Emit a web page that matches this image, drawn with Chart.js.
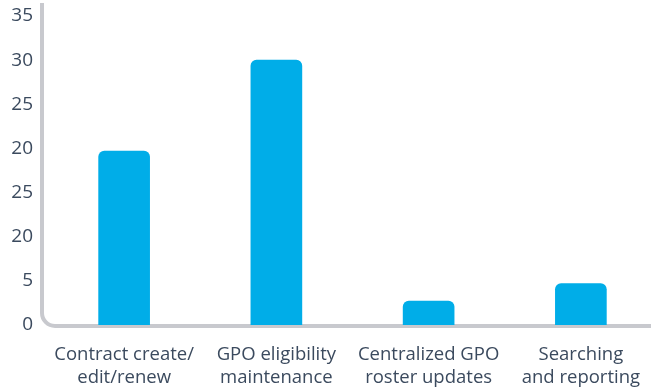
<!DOCTYPE html>
<html>
<head>
<meta charset="utf-8">
<script src="https://cdn.jsdelivr.net/npm/chart.js@4/dist/chart.umd.min.js"></script>
<style>
  html, body { margin: 0; padding: 0; background: #fff; overflow: hidden; }
  #wrap { position: relative; width: 660px; height: 391px; }
</style>
</head>
<body>
<div id="wrap"><canvas id="chart"></canvas></div>
<script>
// values
const categories = [
    ['Contract create/', 'edit/renew'],
    ['GPO eligibility', 'maintenance'],
    ['Centralized GPO', 'roster updates'],
    ['Searching', 'and reporting']
];
const values = [19.7, 30, 2.7, 4.7];
// tick labels as printed on the original axis
const yTickLabels = ['0', '5', '20', '25', '20', '25', '30', '35'];

const textColor = '#3b4a5e';
const axisColor = '#c8c9ce';

// L-shaped axis with a rounded corner, drawn from the chart area
const roundedAxis = {
    id: 'roundedAxis',
    beforeDatasetsDraw(chart) {
        const { ctx, chartArea } = chart;
        const x = chartArea.left - 6;
        const y = chartArea.bottom + 1;
        const r = 13;
        ctx.save();
        ctx.strokeStyle = axisColor;
        ctx.lineWidth = 4;
        ctx.beginPath();
        ctx.moveTo(x, 3);
        ctx.lineTo(x, y - r);
        ctx.arcTo(x, y, x + r, y, r);
        ctx.lineTo(chart.width, y);
        ctx.stroke();
        ctx.restore();
    }
};

new Chart(document.getElementById('chart'), {
    type: 'bar',
    data: {
        labels: categories,
        datasets: [{
            data: values,
            backgroundColor: '#00ade8',
            borderWidth: 0,
            barThickness: 51,
            borderRadius: { topLeft: 6, topRight: 6, bottomLeft: 0, bottomRight: 0 },
            borderSkipped: false
        }]
    },
    options: {
        responsive: true,
        maintainAspectRatio: false,
        animation: false,
        layout: { padding: { top: 16, right: 3, left: 0, bottom: 0 } },
        plugins: { legend: { display: false }, tooltip: { enabled: false } },
        scales: {
            x: {
                grid: { display: false, drawTicks: false },
                border: { display: false },
                ticks: {
                    color: textColor,
                    font: { family: 'Open Sans', size: 18.5 },
                    padding: 19,
                    maxRotation: 0,
                    autoSkip: false
                },
                afterFit: (scale) => { scale.height = 66; }
            },
            y: {
                min: 0,
                max: 35,
                grid: { display: false, drawTicks: false },
                border: { display: false },
                ticks: {
                    stepSize: 5,
                    color: textColor,
                    font: { family: 'Open Sans', size: 19 },
                    padding: 15,
                    callback: (value, index) => yTickLabels[index]
                },
                afterFit: (scale) => {
                    scale.width = 48;
                    scale.paddingTop = 0;
                    scale.paddingBottom = 0;
                }
            }
        }
    },
    plugins: [roundedAxis]
});
</script>
</body>
</html>
